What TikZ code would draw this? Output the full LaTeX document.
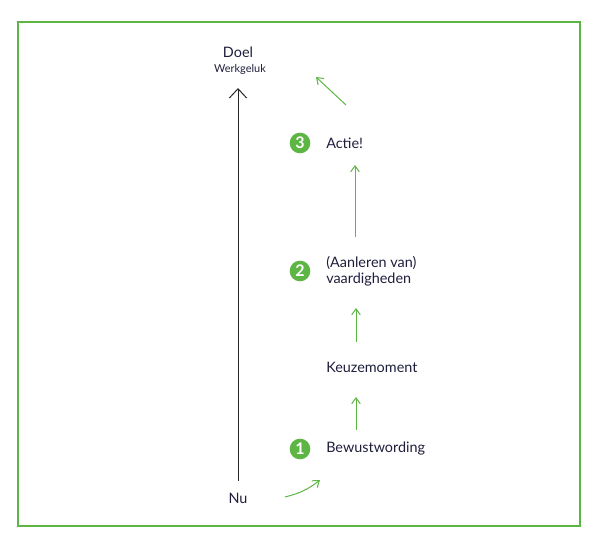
\documentclass[tikz,border=0pt]{standalone}
\usepackage{fontspec}
\setmainfont{Lato}
\usetikzlibrary{arrows.meta}
\definecolor{groen}{HTML}{5DB544}
\definecolor{tekst}{HTML}{1E1E3C}
\tikzset{
    stap/.style={shape=circle,fill=groen,text=white,inner sep=0pt,minimum size=15.5pt,font=\bfseries\large},
    label/.style={anchor=west,text=tekst,align=left,inner sep=0pt,font=\fontsize{10.8}{12}\selectfont},
    pijl/.style={-{Straight Barb[length=4.5pt,width=6.5pt]},draw=groen,line width=0.75pt}
}
\begin{document}
\begin{tikzpicture}[x=0.75pt,y=-0.75pt]
        \useasboundingbox (0,0) rectangle (595,539);
        \draw[groen,line width=1.3pt] (18,22) rectangle (580,526);

        \node[text=tekst,inner sep=0pt,font=\fontsize{10.8}{12}\selectfont] (doel) at (238,52) {Doel};
        \node[text=tekst,inner sep=0pt,font=\fontsize{8.2}{9}\selectfont] (werkgeluk) at (240,69) {Werkgeluk};
        \node[text=tekst,inner sep=0pt,font=\fontsize{10.8}{12}\selectfont] (nu) at (238,498) {Nu};

        \node[stap] (1) at (300,449) {1};
        \node[stap] (2) at (300,271) {2};
        \node[stap] (3) at (300,143) {3};
        \node[label] (bewust) at (326,449) {Bewustwording};
        \node[label] (keuze) at (326,367) {Keuzemoment};
        \node[label] (vaardig) at (326,271) {(Aanleren van)\\vaardigheden};
        \node[label] (actie) at (326,143) {Actie!};

        \coordinate (top) at (238,88);
        \coordinate (bodem) at (238,481);
        \coordinate (a0) at (285,497);
        \coordinate (b0) at (320,480);
        \coordinate (a1) at (356,430);
        \coordinate (b1) at (356,397);
        \coordinate (a2) at (356,342);
        \coordinate (b2) at (356,308);
        \coordinate (a3) at (355,237);
        \coordinate (b3) at (355,165);
        \coordinate (a4) at (346,105);
        \coordinate (b4) at (316,77);

        \draw[-{Straight Barb[length=7pt,width=13pt]},black!85,line width=0.75pt] (bodem) -- (top);
        \draw[pijl] (a0) to[bend right=12] (b0);
        \draw[pijl] (a1) -- (b1);
        \draw[pijl] (a2) -- (b2);
        \draw[pijl] (a3) -- (b3);
        \draw[pijl] (a4) -- (b4);
    \end{tikzpicture}
\end{document}
